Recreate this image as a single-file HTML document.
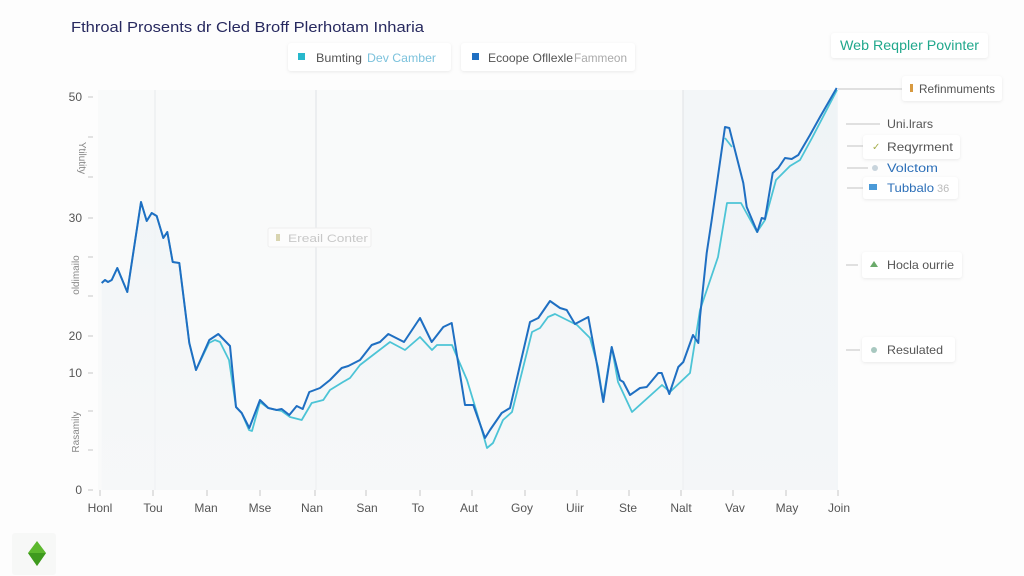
<!DOCTYPE html>
<html><head><meta charset="utf-8"><style>
html,body{margin:0;padding:0;background:#fdfdfd;}
svg{display:block;font-family:"Liberation Sans",sans-serif;}
</style></head><body>
<svg width="1024" height="576" viewBox="0 0 1024 576" xmlns="http://www.w3.org/2000/svg">
<defs>
<linearGradient id="ar" x1="0" y1="0" x2="0" y2="1"><stop offset="0" stop-color="#eef3f6" stop-opacity="0.9"/><stop offset="1" stop-color="#f4f6f8" stop-opacity="0.6"/></linearGradient>
<filter id="sh" x="-10%" y="-20%" width="120%" height="150%"><feDropShadow dx="0" dy="1" stdDeviation="1.5" flood-color="#000" flood-opacity="0.08"/></filter>
</defs>
<rect width="1024" height="576" fill="#fdfdfd"/>
<!-- plot area -->
<rect x="98" y="90" width="740" height="400" fill="#f9fafa"/>
<rect x="683" y="90" width="155" height="400" fill="#f3f6f8"/>
<line x1="155" y1="90" x2="155" y2="490" stroke="#eaecee" stroke-width="1.2"/>
<line x1="316" y1="90" x2="316" y2="490" stroke="#e4e6e8" stroke-width="1.2"/>
<line x1="683" y1="90" x2="683" y2="490" stroke="#e4e6e8" stroke-width="1.2"/>
<!-- area under curve -->
<polygon fill="url(#ar)" points="101.7,283 105,280 108,282 111.7,280 117.3,268 127.3,292 141,202 146.7,221 151.7,213 156.7,216 163.3,238 167.3,232 172.7,262 179.3,263 189.3,343 196,370 209.3,340 218.3,334 230,346 236,407 241.7,413 249.3,428 260,400 268.3,408 276.7,410 281.7,409 289.3,415 296.7,406 302.7,409 309.3,392 320,388 330,380 341.7,368 348.3,366 360,360 371.7,345 380,342 388.3,334 404,342 420,318 431.7,342 443.3,327 451.7,323 465,405 473.3,405 485,438 490,430 501.7,413 510,408 530,322 538.3,318 550,301 560,308 566.7,310 575,324 588.3,317 596.7,363 603.3,402 611.7,347 620,380 623.3,382 630,395 640,388 646.7,387 658.3,373 661.7,373 669.3,394 678.3,367 683.3,362 693,335 698.3,343 700,317 706.7,253 711.7,220 725,127 729.3,128 743.3,183 746.7,207 757.3,232 761.7,218 765,219 772.7,173 778.3,168 785,158 791.7,159 798.3,155 810,135 820,117 836.7,88 836.7,490 101.7,490"/>
<!-- light series -->
<polyline fill="none" stroke="#4cc4d6" stroke-width="1.8" stroke-linejoin="round" points="101.7,283 105,280 108,282 111.7,280 117.3,268 127.3,292 141,202 146.7,221 151.7,213 156.7,216 163.3,238 167.3,232 172.7,262 179.3,263 189.3,343 196,370 209,343 215,340 220,342 229,360 236,407 241.7,413 249,430 252,431 260,402 268,408 276.7,410 281.7,411 290,417 301.7,420 311.7,403 323.3,400 330,390 343,382 350,378 360,365 373,355 390,342 405,350 420,337 432,350 437,345 452,345 467,380 477,413 487,448 493,443 503,420 512,412 532,332 540,328 548,317 555,314 563,318 577,325 590,338 598,367 603,400 611.7,347 618,382 632,412 662,385 670,392 690,373 700,310 718,257 727,203 741,203 757,232 765,220 776,180 790,166 800,160 812,138 837,90"/>
<polyline fill="none" stroke="#4cc4d6" stroke-width="1.8" points="725,138 732,147"/>
<!-- dark series -->
<polyline fill="none" stroke="#1f6fc2" stroke-width="2" stroke-linejoin="round" points="101.7,283 105,280 108,282 111.7,280 117.3,268 127.3,292 141,202 146.7,221 151.7,213 156.7,216 163.3,238 167.3,232 172.7,262 179.3,263 189.3,343 196,370 209.3,340 218.3,334 230,346 236,407 241.7,413 249.3,428 260,400 268.3,408 276.7,410 281.7,409 289.3,415 296.7,406 302.7,409 309.3,392 320,388 330,380 341.7,368 348.3,366 360,360 371.7,345 380,342 388.3,334 404,342 420,318 431.7,342 443.3,327 451.7,323 465,405 473.3,405 485,438 490,430 501.7,413 510,408 530,322 538.3,318 550,301 560,308 566.7,310 575,324 588.3,317 596.7,363 603.3,402 611.7,347 620,380 623.3,382 630,395 640,388 646.7,387 658.3,373 661.7,373 669.3,394 678.3,367 683.3,362 693,335 698.3,343 700,317 706.7,253 711.7,220 725,127 729.3,128 743.3,183 746.7,207 757.3,232 761.7,218 765,219 772.7,173 778.3,168 785,158 791.7,159 798.3,155 810,135 820,117 836.7,88"/>
<!-- y ticks -->
<g stroke="#c8c8c8" stroke-width="1">
<line x1="88" y1="97" x2="93" y2="97"/><line x1="88" y1="137" x2="93" y2="137"/><line x1="88" y1="177" x2="93" y2="177"/><line x1="88" y1="218" x2="93" y2="218"/><line x1="88" y1="257" x2="93" y2="257"/><line x1="88" y1="296" x2="93" y2="296"/><line x1="88" y1="336" x2="93" y2="336"/><line x1="88" y1="373" x2="93" y2="373"/><line x1="88" y1="411" x2="93" y2="411"/><line x1="88" y1="450" x2="93" y2="450"/><line x1="88" y1="490" x2="93" y2="490"/>
</g>
<g fill="#555" font-size="12" text-anchor="end">
<text x="82" y="101">50</text><text x="82" y="222">30</text><text x="82" y="340">20</text><text x="82" y="377">10</text><text x="82" y="494">0</text>
</g>
<g fill="#888" font-size="10">
<text transform="translate(79,158) rotate(90)" text-anchor="middle">Ytilutity</text>
<text transform="translate(79,275) rotate(-90)" text-anchor="middle">oldimailo</text>
<text transform="translate(79,432) rotate(-90)" text-anchor="middle">Rasamily</text>
</g>
<!-- x ticks -->
<g stroke="#c8c8c8" stroke-width="1">
<line x1="100" y1="490" x2="100" y2="496"/><line x1="153" y1="490" x2="153" y2="496"/><line x1="207" y1="490" x2="207" y2="496"/><line x1="260" y1="490" x2="260" y2="496"/><line x1="315" y1="490" x2="315" y2="496"/><line x1="366" y1="490" x2="366" y2="496"/><line x1="420" y1="490" x2="420" y2="496"/><line x1="472" y1="490" x2="472" y2="496"/><line x1="525" y1="490" x2="525" y2="496"/><line x1="577" y1="490" x2="577" y2="496"/><line x1="629" y1="490" x2="629" y2="496"/><line x1="681" y1="490" x2="681" y2="496"/><line x1="733" y1="490" x2="733" y2="496"/><line x1="786" y1="490" x2="786" y2="496"/><line x1="838" y1="490" x2="838" y2="496"/>
</g>
<g fill="#555" font-size="12" text-anchor="middle">
<text x="100" y="512">Honl</text><text x="153" y="512">Tou</text><text x="206" y="512">Man</text><text x="260" y="512">Mse</text><text x="312" y="512">Nan</text><text x="367" y="512">San</text><text x="418" y="512">To</text><text x="469" y="512">Aut</text><text x="522" y="512">Goy</text><text x="575" y="512">Uiir</text><text x="628" y="512">Ste</text><text x="681" y="512">Nalt</text><text x="735" y="512">Vav</text><text x="787" y="512">May</text><text x="839" y="512">Join</text>
</g>
<!-- title -->
<text x="71" y="32" fill="#27295f" font-size="15" textLength="353" lengthAdjust="spacingAndGlyphs">Fthroal Prosents dr Cled Broff Plerhotam Inharia</text>
<!-- legend -->
<rect x="288" y="43" width="163" height="28" rx="3" fill="#fff" filter="url(#sh)"/>
<rect x="298" y="53" width="7" height="7" fill="#27b8cc"/>
<text x="316" y="62" font-size="12" fill="#555" textLength="46" lengthAdjust="spacingAndGlyphs">Bumting</text>
<text x="367" y="62" font-size="12" fill="#7cc2dc" textLength="69" lengthAdjust="spacingAndGlyphs">Dev Camber</text>
<rect x="461" y="43" width="174" height="28" rx="3" fill="#fff" filter="url(#sh)"/>
<rect x="472" y="53" width="7" height="7" fill="#1f6fc2"/>
<text x="488" y="62" font-size="12" fill="#555" textLength="85" lengthAdjust="spacingAndGlyphs">Ecoope Ofllexle</text>
<text x="574" y="62" font-size="12" fill="#aaa" textLength="53" lengthAdjust="spacingAndGlyphs">Fammeon</text>
<!-- faint center label -->
<rect x="268" y="228" width="103" height="19" rx="2" fill="#fcfcfc" stroke="#eee" stroke-width="1"/>
<rect x="276" y="234" width="4" height="7" fill="#d8d4b0"/>
<text x="288" y="242" font-size="11" fill="#c8c8c8" textLength="80" lengthAdjust="spacingAndGlyphs">Ereail Conter</text>
<!-- top right label -->
<rect x="831" y="33" width="157" height="25" rx="3" fill="#fff" filter="url(#sh)"/>
<text x="840" y="50" font-size="14" fill="#20a88c" textLength="139" lengthAdjust="spacingAndGlyphs">Web Reqpler Povinter</text>
<!-- right annotations -->
<g stroke="#c4c4c4" stroke-width="1">
<line x1="838" y1="89" x2="905" y2="89"/>
<line x1="846" y1="124" x2="880" y2="124"/>
<line x1="847" y1="146" x2="872" y2="146"/>
<line x1="847" y1="168" x2="868" y2="168"/>
<line x1="847" y1="188" x2="866" y2="188"/>
<line x1="846" y1="265" x2="858" y2="265"/>
<line x1="846" y1="350" x2="860" y2="350"/>
</g>
<rect x="902" y="76" width="100" height="25" rx="3" fill="#fff" filter="url(#sh)"/>
<rect x="910" y="84" width="3" height="8" fill="#d89a40"/>
<text x="919" y="93" font-size="12" fill="#555" textLength="76" lengthAdjust="spacingAndGlyphs">Refinmuments</text>
<text x="887" y="128" font-size="12" fill="#555" textLength="46" lengthAdjust="spacingAndGlyphs">Uni.lrars</text>
<rect x="863" y="135" width="97" height="24" rx="3" fill="#fff" filter="url(#sh)"/>
<text x="872" y="150" font-size="10" fill="#a8b050">✓</text>
<text x="887" y="151" font-size="12" fill="#555" textLength="66" lengthAdjust="spacingAndGlyphs">Reqyrment</text>
<circle cx="875" cy="168" r="3" fill="#c8d4dc"/>
<text x="887" y="172" font-size="12" fill="#2c6fb8" textLength="51" lengthAdjust="spacingAndGlyphs">Volctom</text>
<rect x="863" y="177" width="95" height="22" rx="3" fill="#fff" filter="url(#sh)"/>
<rect x="869" y="184" width="8" height="6" fill="#4a9ad8"/>
<text x="887" y="192" font-size="12" fill="#2c6fb8" textLength="47" lengthAdjust="spacingAndGlyphs">Tubbalo</text>
<text x="937" y="192" font-size="11" fill="#bbb">36</text>
<rect x="862" y="252" width="100" height="26" rx="3" fill="#fff" filter="url(#sh)"/>
<polygon points="874,261 878,267 870,267" fill="#6aaa6a"/>
<text x="887" y="269" font-size="12" fill="#555" textLength="67" lengthAdjust="spacingAndGlyphs">Hocla ourrie</text>
<rect x="862" y="337" width="93" height="25" rx="3" fill="#fff" filter="url(#sh)"/>
<circle cx="874" cy="350" r="3" fill="#a8c8c0"/>
<text x="887" y="354" font-size="12" fill="#555" textLength="56" lengthAdjust="spacingAndGlyphs">Resulated</text>
<!-- bottom-left icon -->
<rect x="12" y="533" width="44" height="42" rx="3" fill="#f7f8f7"/>
<polygon points="37,541 46,553 37,566 28,553" fill="#5cb82e"/>
<polygon points="28,553 46,553 37,566" fill="#3e9a1e"/>
</svg>
</body></html>
